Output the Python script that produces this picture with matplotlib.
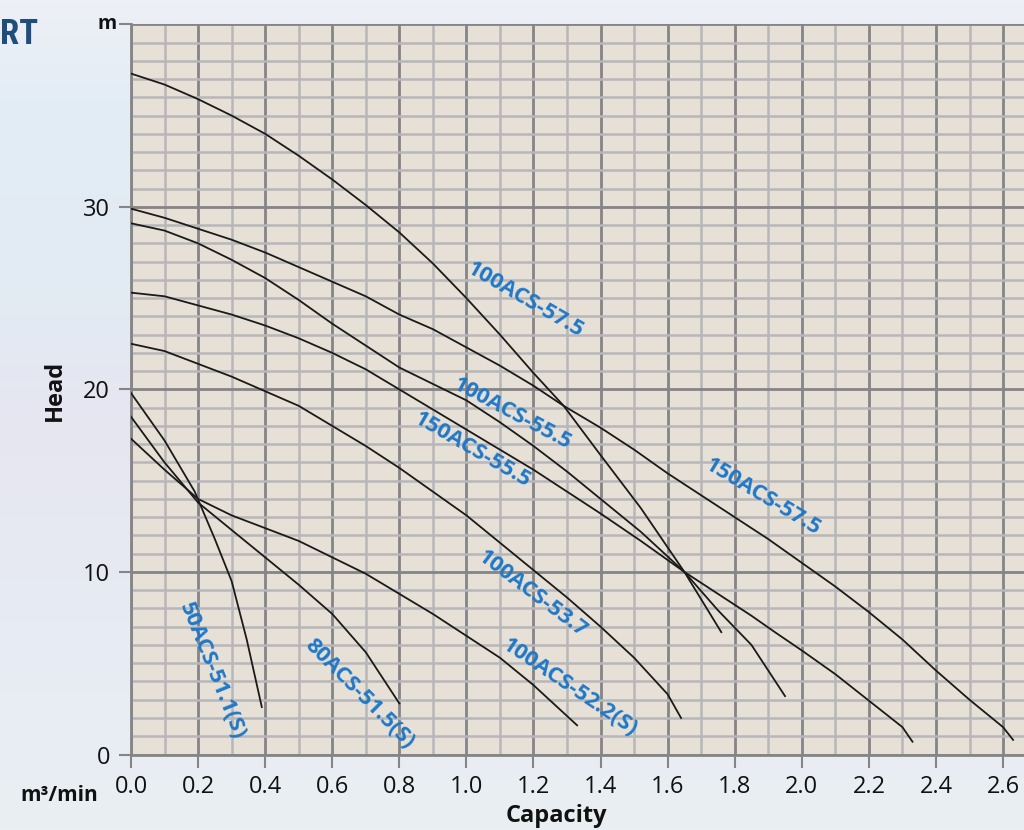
import numpy as np
import matplotlib
matplotlib.use("Agg")
import matplotlib.pyplot as plt
from matplotlib import font_manager
from matplotlib.colors import LinearSegmentedColormap
from matplotlib.ticker import MultipleLocator, FixedLocator

# ---------------- data ----------------
q_100_575 = [0.0, 0.1, 0.2, 0.3, 0.4, 0.5, 0.6, 0.7, 0.8, 0.9, 1.0, 1.1, 1.2, 1.29, 1.4, 1.52, 1.65, 1.76]
h_100_575 = [37.3, 36.7, 35.9, 35.0, 34.0, 32.8, 31.5, 30.1, 28.6, 26.9, 25.0, 23.0, 20.9, 19.1, 16.4, 13.5, 10.0, 6.7]

q_150_575 = [0.0, 0.1, 0.2, 0.3, 0.4, 0.5, 0.6, 0.7, 0.8, 0.9, 1.0, 1.1, 1.2, 1.29, 1.4, 1.5, 1.6, 1.7, 1.8,
             1.9, 2.0, 2.1, 2.2, 2.3, 2.4, 2.5, 2.6, 2.63]
h_150_575 = [29.9, 29.4, 28.8, 28.2, 27.5, 26.7, 25.9, 25.1, 24.1, 23.3, 22.3, 21.3, 20.2, 19.1, 17.9, 16.7,
             15.4, 14.2, 13.0, 11.8, 10.5, 9.2, 7.8, 6.3, 4.6, 3.0, 1.5, 0.8]

q_100_555 = [0.0, 0.1, 0.2, 0.3, 0.4, 0.5, 0.6, 0.7, 0.8, 0.9, 1.0, 1.1, 1.2, 1.3, 1.4, 1.52, 1.65, 1.75, 1.85, 1.9, 1.95]
h_100_555 = [29.1, 28.7, 28.0, 27.1, 26.1, 24.9, 23.6, 22.4, 21.2, 20.3, 19.4, 18.2, 16.9, 15.5, 14.0, 12.2, 10.0, 7.9, 6.0, 4.6, 3.2]

q_150_555 = [0.0, 0.1, 0.2, 0.3, 0.4, 0.5, 0.6, 0.7, 0.8, 0.9, 1.0, 1.1, 1.2, 1.3, 1.4, 1.52, 1.65, 1.75, 1.85,
             1.92, 2.0, 2.1, 2.2, 2.3, 2.33]
h_150_555 = [25.3, 25.1, 24.6, 24.1, 23.5, 22.8, 22.0, 21.1, 20.0, 18.9, 17.8, 16.7, 15.6, 14.4, 13.2, 11.7, 10.0,
             8.8, 7.6, 6.7, 5.7, 4.4, 2.95, 1.5, 0.7]

q_100_537 = [0.0, 0.1, 0.2, 0.3, 0.4, 0.5, 0.6, 0.7, 0.8, 0.9, 1.0, 1.1, 1.2, 1.3, 1.4, 1.5, 1.6, 1.64]
h_100_537 = [22.5, 22.1, 21.4, 20.7, 19.9, 19.1, 18.0, 16.9, 15.7, 14.4, 13.1, 11.6, 10.1, 8.6, 7.0, 5.3, 3.3, 2.0]

q_100_522 = [0.0, 0.1, 0.2, 0.3, 0.4, 0.5, 0.6, 0.7, 0.8, 0.9, 1.0, 1.1, 1.2, 1.33]
h_100_522 = [17.3, 15.6, 14.0, 13.1, 12.4, 11.7, 10.8, 9.9, 8.8, 7.7, 6.5, 5.3, 3.8, 1.6]

q_80_515 = [0.0, 0.1, 0.2, 0.3, 0.4, 0.5, 0.6, 0.7, 0.8]
h_80_515 = [18.5, 16.0, 13.8, 12.3, 10.8, 9.3, 7.7, 5.6, 2.8]

q_50_511 = [0.0, 0.1, 0.19, 0.25, 0.3, 0.345, 0.39]
h_50_511 = [19.8, 17.2, 14.4, 11.8, 9.5, 6.3, 2.6]

curves = [
    (q_100_575, h_100_575), (q_150_575, h_150_575), (q_100_555, h_100_555), (q_150_555, h_150_555),
    (q_100_537, h_100_537), (q_100_522, h_100_522), (q_80_515, h_80_515), (q_50_511, h_50_511),
]

label_texts = ["100ACS-57.5", "150ACS-57.5", "100ACS-55.5", "150ACS-55.5",
               "100ACS-53.7", "100ACS-52.2(S)", "80ACS-51.5(S)", "50ACS-51.1(S)"]
label_x = [1.175, 1.884, 1.136, 1.017, 1.196, 1.309, 0.68, 0.242]
label_y = [24.9, 14.1, 18.65, 16.7, 8.8, 3.7, 3.3, 4.6]
label_rot = [-30, -31, -28, -30, -37, -34, -45, -68]

x_ticks = [0.0, 0.2, 0.4, 0.6, 0.8, 1.0, 1.2, 1.4, 1.6, 1.8, 2.0, 2.2, 2.4, 2.6]
x_ticklabels = ["0.0", "0.2", "0.4", "0.6", "0.8", "1.0", "1.2", "1.4", "1.6", "1.8", "2.0", "2.2", "2.4", "2.6"]
y_ticks = [0, 10, 20, 30, 40]
y_ticklabels = ["0", "10", "20", "30", ""]

# ---------------- figure ----------------
W, H = 1024, 830
fig = plt.figure(figsize=(W / 100, H / 100), dpi=100)
plt.rcParams['font.family'] = ['Open Sans', 'DejaVu Sans']

# background gradient
bg = fig.add_axes([0, 0, 1, 1], zorder=-5)
cmap = LinearSegmentedColormap.from_list(
    "bg", [(0.0, "#eef0f6"), (0.12, "#e3edf5"), (0.35, "#e2ebf3"), (0.5, "#e6e6f1"),
           (0.75, "#e7ebf3"), (1.0, "#eaeff4")])
grad = np.linspace(0, 1, 256).reshape(-1, 1)
bg.imshow(grad, aspect="auto", cmap=cmap, extent=[0, 1, 0, 1], origin="upper")
bg.set_axis_off()

narrow = None
for fam in ["Liberation Sans Narrow", "Roboto Condensed"]:
    try:
        font_manager.findfont(font_manager.FontProperties(family=fam), fallback_to_default=False)
        narrow = fam
        break
    except Exception:
        pass
fig.text(0 / W, 1 - 44 / H, "RT", ha="left", va="baseline",
         fontsize=25 if narrow else 20, fontweight="bold", color="#1f4e7d",
         family=[narrow] if narrow else ["Open Sans", "DejaVu Sans"])

left = 131 / W
bottom = 1 - 754.5 / H
top = 1 - 24.3 / H
ax = fig.add_axes([left, bottom, 1 - left, top - bottom])
ax.set_facecolor("#e7e0d6")
ax.set_xlim(0, 893 / 335.4)
ax.set_ylim(0, 40)

# grid
ax.xaxis.set_major_locator(FixedLocator(x_ticks))
ax.xaxis.set_minor_locator(MultipleLocator(0.1))
ax.yaxis.set_major_locator(FixedLocator(y_ticks))
ax.yaxis.set_minor_locator(MultipleLocator(1))
ax.grid(which="minor", color="#b7b7b9", linewidth=1.8, zorder=0)
ax.grid(which="major", color="#858587", linewidth=2.0, zorder=0)
ax.set_axisbelow(True)

for s in ["top", "right"]:
    ax.spines[s].set_visible(False)
for s in ["left", "bottom"]:
    ax.spines[s].set_color("#858587")
    ax.spines[s].set_linewidth(2.0)

ax.set_xticks(x_ticks)
ax.set_xticklabels(x_ticklabels)
ax.set_yticks(y_ticks)
ax.set_yticklabels(y_ticklabels)
ax.tick_params(which="major", direction="out", length=9, width=1.5, color="#858587",
               labelsize=17, labelcolor="#111111", pad=6)
ax.tick_params(which="minor", length=0)

# unit label at the top of the y axis
ax.annotate("m", xy=(0, 40), xycoords="data", xytext=(-17, 0.5), textcoords="offset points",
            ha="center", va="center", fontsize=14, fontweight="bold", color="#111111",
            annotation_clip=False)

for q, h in curves:
    ax.plot(q, h, color="#1a1a1a", linewidth=1.3, zorder=3, solid_joinstyle="round")

for t, x, y, r in zip(label_texts, label_x, label_y, label_rot):
    ax.text(x, y, t, rotation=r, rotation_mode="anchor", ha="center", va="center",
            fontsize=16, fontweight="bold", color="#1f78c8", zorder=4)

fig.text(55 / W, 1 - 390 / H, "Head", rotation=90, ha="center", va="center",
         fontsize=17, fontweight="bold", color="#111111")
fig.text(556 / W, 1 - 816 / H, "Capacity", ha="center", va="center",
         fontsize=17, fontweight="bold", color="#111111")
fig.text(59 / W, 1 - 795 / H, "m³/min", ha="center", va="center",
         fontsize=15, fontweight="bold", color="#111111")

fig.savefig("out.png", dpi=100, facecolor=fig.get_facecolor())
